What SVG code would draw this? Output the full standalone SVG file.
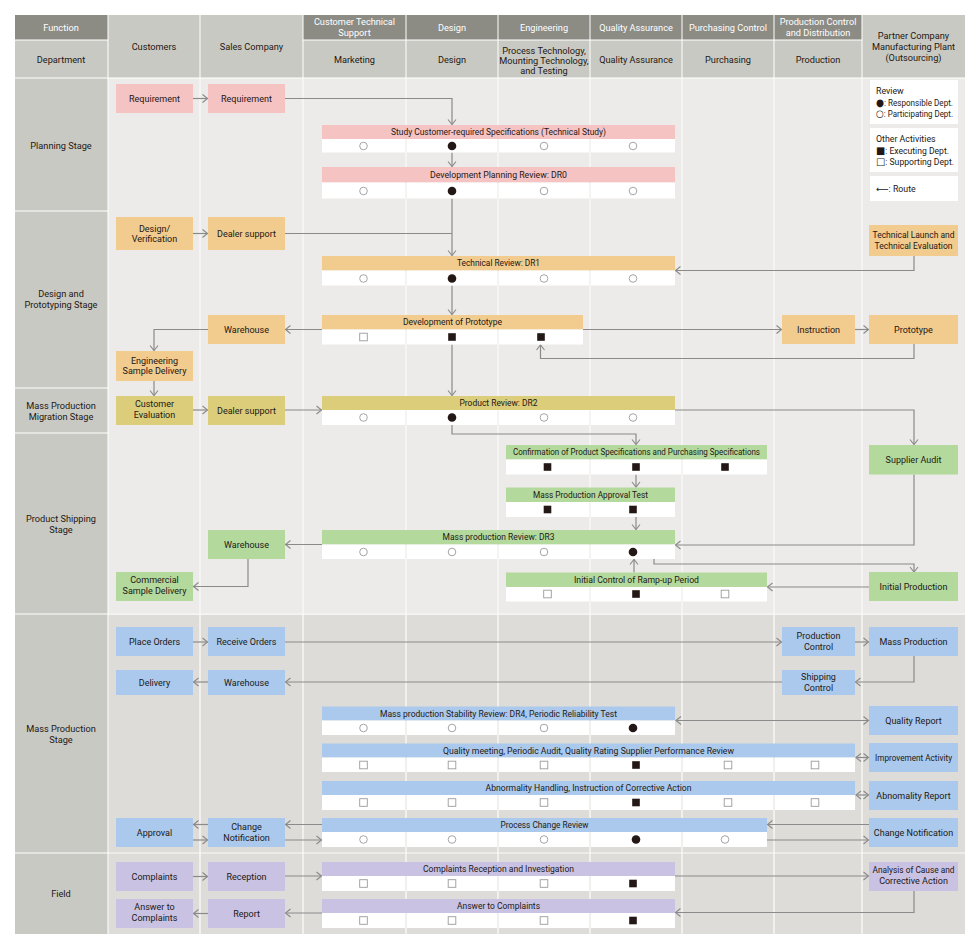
<svg xmlns="http://www.w3.org/2000/svg" xmlns:xlink="http://www.w3.org/1999/xlink" width="980" height="949" viewBox="0 0 980 949">
<style>
text{font-family:Roboto,"Liberation Sans","DejaVu Sans",sans-serif;fill:#231815}
.t{font-size:9px;text-anchor:middle}
.h{font-size:9.2px;text-anchor:middle}
.hw{font-size:9.2px;text-anchor:middle;fill:#fff}
.tl{font-size:8.8px;text-anchor:start}
.sym{font-family:"DejaVu Sans",sans-serif;font-size:10px}
.hd{fill:#8c8b84}
.hl{fill:#c9c9c3}
.pk{fill:#f6c3c3}
.or{fill:#f2cb8e}
.ol{fill:#dccd7a}
.gr{fill:#b3d99c}
.bl{fill:#aac9ec}
.pu{fill:#c9c2e3}
.w{fill:#fff}
#connectors path{fill:none;stroke:#8a8a8a;stroke-width:1.2}
.vl{stroke:#f7f7f5;stroke-width:1.5}
.sl{stroke:#fafaf8;stroke-width:1.2}
</style>
<defs>
<marker id="ah" markerWidth="8" markerHeight="10" refX="5.5" refY="4.5" orient="auto-start-reverse" markerUnits="userSpaceOnUse" overflow="visible"><path d="M0.5,0.5 L5.5,4.5 L0.5,8.5" fill="none" stroke="#8a8a8a" stroke-width="1.1"/></marker>
<circle id="oc" cx="0" cy="0" r="3.8" fill="#fff" stroke="#9b9b9b" stroke-width="0.9"/>
<circle id="fc" cx="0" cy="0" r="4.3" fill="#231815"/>
<rect id="os" x="-3.8" y="-3.8" width="7.6" height="7.6" fill="#fff" stroke="#9b9b9b" stroke-width="0.9"/>
<rect id="fs" x="-3.8" y="-3.8" width="7.6" height="7.6" fill="#231815"/>
</defs>
<rect x="0" y="0" width="980" height="949" fill="#fff"/>

<g id="header">
<rect class="hd" x="15" y="15" width="92.5" height="24.5"/>
<text class="hw" x="61" y="31">Function</text>
<rect class="hl" x="15" y="40.5" width="92.5" height="37"/>
<text class="h" x="61" y="63">Department</text>
<rect class="hl" x="108.5" y="15" width="91" height="62.5"/>
<text class="h" x="154" y="50">Customers</text>
<rect class="hl" x="200.5" y="15" width="102" height="62.5"/>
<text class="h" x="251.5" y="50">Sales Company</text>
<rect class="hd" x="303.5" y="15" width="102" height="24.5"/>
<text class="hw" x="354.5" y="25.2">Customer Technical</text>
<text class="hw" x="354.5" y="36.2">Support</text>
<rect class="hd" x="406.5" y="15" width="91" height="24.5"/>
<text class="hw" x="452" y="31">Design</text>
<rect class="hd" x="498.5" y="15" width="91" height="24.5"/>
<text class="hw" x="544" y="31">Engineering</text>
<rect class="hd" x="590.5" y="15" width="91" height="24.5"/>
<text class="hw" x="636" y="31">Quality Assurance</text>
<rect class="hd" x="682.5" y="15" width="91" height="24.5"/>
<text class="hw" x="728" y="31">Purchasing Control</text>
<rect class="hd" x="774.5" y="15" width="87" height="24.5"/>
<text class="hw" x="818" y="25.2">Production Control</text>
<text class="hw" x="818" y="36.2">and Distribution</text>
<rect class="hl" x="303.5" y="40.5" width="102" height="37"/>
<text class="h" x="354.5" y="63">Marketing</text>
<rect class="hl" x="406.5" y="40.5" width="91" height="37"/>
<text class="h" x="452" y="63">Design</text>
<rect class="hl" x="498.5" y="40.5" width="91" height="37"/>
<text class="h" x="544" y="53.8">Process Technology,</text>
<text class="h" x="544" y="63.8">Mounting Technology,</text>
<text class="h" x="544" y="73.8">and Testing</text>
<rect class="hl" x="590.5" y="40.5" width="91" height="37"/>
<text class="h" x="636" y="63">Quality Assurance</text>
<rect class="hl" x="682.5" y="40.5" width="91" height="37"/>
<text class="h" x="728" y="63">Purchasing</text>
<rect class="hl" x="774.5" y="40.5" width="87" height="37"/>
<text class="h" x="818" y="63">Production</text>
<rect class="hl" x="862.5" y="15" width="102.5" height="62.5"/>
<text class="h" x="913.5" y="39.1">Partner Company</text>
<text class="h" x="913.5" y="50.1">Manufacturing Plant</text>
<text class="h" x="913.5" y="61.1">(Outsourcing)</text>
</g>

<g id="body">
<rect x="108.5" y="78.5" width="856.5" height="535.5" fill="#ecebe9"/>
<rect x="108.5" y="614.5" width="856.5" height="319.5" fill="#dedcd8"/>
<line class="vl" x1="200" y1="78" x2="200" y2="934"/>
<line class="vl" x1="303" y1="78" x2="303" y2="934"/>
<line class="vl" x1="406" y1="78" x2="406" y2="934"/>
<line class="vl" x1="498" y1="78" x2="498" y2="934"/>
<line class="vl" x1="590" y1="78" x2="590" y2="934"/>
<line class="vl" x1="682" y1="78" x2="682" y2="934"/>
<line class="vl" x1="774" y1="78" x2="774" y2="934"/>
<line class="vl" x1="862" y1="78" x2="862" y2="934"/>
<line class="sl" x1="108" y1="614" x2="965" y2="614"/>
<line class="sl" x1="108" y1="853" x2="965" y2="853"/>
</g>

<g id="stages">
<rect class="hl" x="15" y="78.5" width="92.5" height="132"/>
<text class="h" x="61" y="148.8">Planning Stage</text>
<rect class="hl" x="15" y="211.5" width="92.5" height="176"/>
<text class="h" x="61" y="297.4">Design and</text>
<text class="h" x="61" y="308.4">Prototyping Stage</text>
<rect class="hl" x="15" y="388.5" width="92.5" height="44"/>
<text class="h" x="61" y="408.8">Mass Production</text>
<text class="h" x="61" y="419.8">Migration Stage</text>
<rect class="hl" x="15" y="433.5" width="92.5" height="180"/>
<text class="h" x="61" y="522.4">Product Shipping</text>
<text class="h" x="61" y="533.1">Stage</text>
<rect class="hl" x="15" y="614.5" width="92.5" height="238"/>
<text class="h" x="61" y="731.8">Mass Production</text>
<text class="h" x="61" y="743.4">Stage</text>
<rect class="hl" x="15" y="853.5" width="92.5" height="80.5"/>
<text class="h" x="61" y="897.4">Field</text>
</g>

<g id="legend">
<rect class="w" x="870" y="80" width="88" height="44"/>
<text class="tl" x="876" y="94">Review</text>
<text class="tl" x="876" y="105.5" textLength="77" lengthAdjust="spacingAndGlyphs"><tspan class="sym">●</tspan>: Responsible Dept.</text>
<text class="tl" x="876" y="116.5" textLength="77" lengthAdjust="spacingAndGlyphs"><tspan class="sym">○</tspan>: Participating Dept.</text>
<rect class="w" x="870" y="128" width="88" height="44"/>
<text class="tl" x="876" y="142">Other Activities</text>
<text class="tl" x="876" y="153.5" textLength="73" lengthAdjust="spacingAndGlyphs"><tspan class="sym">■</tspan>: Executing Dept.</text>
<text class="tl" x="876" y="165" textLength="78" lengthAdjust="spacingAndGlyphs"><tspan class="sym">□</tspan>: Supporting Dept.</text>
<rect class="w" x="870" y="176" width="88" height="25"/>
<text class="tl" x="876" y="192">⟵: Route</text>
</g>

<g id="connectors" marker-end="url(#ah)">
<path d="M193,98.5 H207.5"/>
<path d="M285,98.5 H452 V124.5"/>
<path d="M452,152.5 V166.5"/>
<path d="M452,198.5 V255.5"/>
<path d="M285,233.5 H452" marker-end="none"/>
<path d="M193,233.5 H207.5"/>
<path d="M914,256 V270.5 H675.5"/>
<path d="M452,285.5 V314.5"/>
<path d="M322,329.5 H285.5"/>
<path d="M208,329.5 H154 V350.5"/>
<path d="M583,329.5 H781.5"/>
<path d="M855,329.5 H868.5"/>
<path d="M914,344 V358.5 H540.5 V345"/>
<path d="M452,344.5 V395.5"/>
<path d="M154,381 V395.5"/>
<path d="M193,410 H207.5"/>
<path d="M285,410 H321.5"/>
<path d="M452,425 V434 H636 V444.5"/>
<path d="M675,410 H914 V444.5"/>
<path d="M636,474.5 V487"/>
<path d="M636,517 V529.5"/>
<path d="M914,474.5 V545 H675.5"/>
<path d="M322,544.5 H285.5"/>
<path d="M248,559 V586.5 H193.5"/>
<path d="M654,559 V564 H914 V572"/>
<path d="M869,587 H767.5"/>
<path d="M634,572.5 V559.5"/>
<path d="M193,642 H207.5"/>
<path d="M285,642 H781.5"/>
<path d="M855,642 H868.5"/>
<path d="M914,656 V682 H855.5"/>
<path d="M782,682 H285.5"/>
<path d="M208,682 H193.5"/>
<path d="M676,720.5 H868.5" marker-start="url(#ah)"/>
<path d="M856,757.5 H868.5" marker-start="url(#ah)"/>
<path d="M856,795 H868.5" marker-start="url(#ah)"/>
<path d="M869,824.5 H767.5"/>
<path d="M767,840 H868.5"/>
<path d="M322,824.5 H285.5"/>
<path d="M285,840 H321.5"/>
<path d="M208,824.5 H193.5"/>
<path d="M193,840 H207.5"/>
<path d="M193,876.5 H207.5"/>
<path d="M285,876 H321.5"/>
<path d="M675,876 H868.5"/>
<path d="M914,891 V912.5 H675.5"/>
<path d="M322,913 H285.5"/>
<path d="M208,913.5 H193.5"/>
</g>

<!-- Planning boxes -->
<g id="cust-req"><rect class="pk" x="116" y="84" width="77" height="29"/><text class="t" x="154.5" y="101.6">Requirement</text></g>
<g id="sales-req"><rect class="pk" x="208" y="84" width="77" height="29"/><text class="t" x="246.5" y="101.6">Requirement</text></g>

<g id="bar-study">
<rect class="pk" x="322" y="125" width="353" height="14"/>
<rect class="w" x="322" y="139" width="83" height="13.5"/><rect class="w" x="407" y="139" width="90" height="13.5"/><rect class="w" x="499" y="139" width="90" height="13.5"/><rect class="w" x="591" y="139" width="84" height="13.5"/>
<text class="t" x="498.5" y="135.1" textLength="215" lengthAdjust="spacingAndGlyphs">Study Customer-required Specifications (Technical Study)</text>
<use xlink:href="#oc" x="363.5" y="146"/><use xlink:href="#fc" x="452" y="146"/><use xlink:href="#oc" x="544" y="146"/><use xlink:href="#oc" x="633" y="146"/>
</g>
<g id="bar-dr0">
<rect class="pk" x="322" y="167" width="353" height="15.5"/>
<rect class="w" x="322" y="182.5" width="83" height="16"/><rect class="w" x="407" y="182.5" width="90" height="16"/><rect class="w" x="499" y="182.5" width="90" height="16"/><rect class="w" x="591" y="182.5" width="84" height="16"/>
<text class="t" x="498.5" y="178" textLength="137" lengthAdjust="spacingAndGlyphs">Development Planning Review: DR0</text>
<use xlink:href="#oc" x="363.5" y="191"/><use xlink:href="#fc" x="452" y="191"/><use xlink:href="#oc" x="544" y="191"/><use xlink:href="#oc" x="633" y="191"/>
</g>

<!-- Design and prototyping -->
<g id="cust-design"><rect class="or" x="116" y="217" width="77" height="33"/><text class="t" x="154.5" y="231.5">Design/</text><text class="t" x="154.5" y="242">Verification</text></g>
<g id="sales-dealer1"><rect class="or" x="208" y="217" width="77" height="33"/><text class="t" x="246.5" y="236.6">Dealer support</text></g>
<g id="partner-launch"><rect class="or" x="869" y="225" width="89" height="31"/><text class="t" x="913.5" y="238.3" textLength="82" lengthAdjust="spacingAndGlyphs">Technical Launch and</text><text class="t" x="913.5" y="248.9" textLength="78" lengthAdjust="spacingAndGlyphs">Technical Evaluation</text></g>
<g id="bar-dr1">
<rect class="or" x="322" y="256" width="353" height="14.5"/>
<rect class="w" x="322" y="270.5" width="83" height="15"/><rect class="w" x="407" y="270.5" width="90" height="15"/><rect class="w" x="499" y="270.5" width="90" height="15"/><rect class="w" x="591" y="270.5" width="84" height="15"/>
<text class="t" x="498.5" y="266.4" textLength="83" lengthAdjust="spacingAndGlyphs">Technical Review: DR1</text>
<use xlink:href="#oc" x="363.5" y="278.5"/><use xlink:href="#fc" x="452" y="278.5"/><use xlink:href="#oc" x="544" y="278.5"/><use xlink:href="#oc" x="633" y="278.5"/>
</g>
<g id="sales-warehouse1"><rect class="or" x="208" y="315" width="77" height="29"/><text class="t" x="246.5" y="332.6">Warehouse</text></g>
<g id="bar-prototype">
<rect class="or" x="322" y="315" width="261" height="14.5"/>
<rect class="w" x="322" y="329.5" width="83" height="15"/><rect class="w" x="407" y="329.5" width="90" height="15"/><rect class="w" x="499" y="329.5" width="84" height="15"/>
<text class="t" x="452.5" y="325.4" textLength="99" lengthAdjust="spacingAndGlyphs">Development of Prototype</text>
<use xlink:href="#os" x="363.5" y="337"/><use xlink:href="#fs" x="452" y="337"/><use xlink:href="#fs" x="541" y="337"/>
</g>
<g id="prod-instruction"><rect class="or" x="782" y="315" width="73" height="29"/><text class="t" x="818.5" y="332.6">Instruction</text></g>
<g id="partner-prototype"><rect class="or" x="869" y="315" width="89" height="29"/><text class="t" x="913.5" y="332.6">Prototype</text></g>
<g id="cust-engsample"><rect class="or" x="116" y="351" width="77" height="30"/><text class="t" x="154.5" y="363.8">Engineering</text><text class="t" x="154.5" y="374.4">Sample Delivery</text></g>

<!-- Migration -->
<g id="cust-eval"><rect class="ol" x="116" y="396" width="77" height="29"/><text class="t" x="154.5" y="407.3">Customer</text><text class="t" x="154.5" y="417.9">Evaluation</text></g>
<g id="sales-dealer2"><rect class="ol" x="208" y="396" width="77" height="29"/><text class="t" x="246.5" y="413.6">Dealer support</text></g>
<g id="bar-dr2">
<rect class="ol" x="322" y="396" width="353" height="14"/>
<rect class="w" x="322" y="410" width="83" height="15"/><rect class="w" x="407" y="410" width="90" height="15"/><rect class="w" x="499" y="410" width="90" height="15"/><rect class="w" x="591" y="410" width="84" height="15"/>
<text class="t" x="498.5" y="406.1" textLength="78" lengthAdjust="spacingAndGlyphs">Product Review: DR2</text>
<use xlink:href="#oc" x="363.5" y="417.5"/><use xlink:href="#fc" x="452" y="417.5"/><use xlink:href="#oc" x="544" y="417.5"/><use xlink:href="#oc" x="633" y="417.5"/>
</g>

<!-- Product shipping -->
<g id="bar-confirmation">
<rect class="gr" x="506" y="445" width="261" height="14.5"/>
<rect class="w" x="506" y="459.5" width="83" height="15"/><rect class="w" x="591" y="459.5" width="90" height="15"/><rect class="w" x="683" y="459.5" width="84" height="15"/>
<text class="t" x="636.5" y="455.4" textLength="247" lengthAdjust="spacingAndGlyphs">Confirmation of Product Specifications and Purchasing Specifications</text>
<use xlink:href="#fs" x="547.5" y="467"/><use xlink:href="#fs" x="636" y="467"/><use xlink:href="#fs" x="725" y="467"/>
</g>
<g id="partner-audit"><rect class="gr" x="869" y="445" width="89" height="29.5"/><text class="t" x="913.5" y="462.9">Supplier Audit</text></g>
<g id="bar-approval-test">
<rect class="gr" x="506" y="487.5" width="169" height="14.5"/>
<rect class="w" x="506" y="502" width="83" height="15"/><rect class="w" x="591" y="502" width="84" height="15"/>
<text class="t" x="590.5" y="497.9" textLength="115" lengthAdjust="spacingAndGlyphs">Mass Production Approval Test</text>
<use xlink:href="#fs" x="547.5" y="509.5"/><use xlink:href="#fs" x="633" y="509.5"/>
</g>
<g id="sales-warehouse2"><rect class="gr" x="208" y="530" width="77" height="29"/><text class="t" x="246.5" y="547.6">Warehouse</text></g>
<g id="bar-dr3">
<rect class="gr" x="322" y="530" width="353" height="14.5"/>
<rect class="w" x="322" y="544.5" width="83" height="14.5"/><rect class="w" x="407" y="544.5" width="90" height="14.5"/><rect class="w" x="499" y="544.5" width="90" height="14.5"/><rect class="w" x="591" y="544.5" width="84" height="14.5"/>
<text class="t" x="498.5" y="540.4" textLength="112" lengthAdjust="spacingAndGlyphs">Mass production Review: DR3</text>
<use xlink:href="#oc" x="363.5" y="552"/><use xlink:href="#oc" x="452" y="552"/><use xlink:href="#oc" x="544" y="552"/><use xlink:href="#fc" x="633" y="552"/>
</g>
<g id="cust-commercial"><rect class="gr" x="116" y="572" width="77" height="29"/><text class="t" x="154.5" y="583.3">Commercial</text><text class="t" x="154.5" y="593.9">Sample Delivery</text></g>
<g id="bar-rampup">
<rect class="gr" x="506" y="572.5" width="261" height="14.5"/>
<rect class="w" x="506" y="587" width="83" height="14.5"/><rect class="w" x="591" y="587" width="90" height="14.5"/><rect class="w" x="683" y="587" width="84" height="14.5"/>
<text class="t" x="636.5" y="582.9" textLength="125" lengthAdjust="spacingAndGlyphs">Initial Control of Ramp-up Period</text>
<use xlink:href="#os" x="547.5" y="594"/><use xlink:href="#fs" x="636" y="594"/><use xlink:href="#os" x="725" y="594"/>
</g>
<g id="partner-initial"><rect class="gr" x="869" y="572" width="89" height="29"/><text class="t" x="913.5" y="589.6">Initial Production</text></g>

<!-- Mass production -->
<g id="cust-orders"><rect class="bl" x="116" y="627" width="77" height="29"/><text class="t" x="154.5" y="644.6">Place Orders</text></g>
<g id="sales-orders"><rect class="bl" x="208" y="627" width="77" height="29"/><text class="t" x="246.5" y="644.6">Receive Orders</text></g>
<g id="prod-control"><rect class="bl" x="782" y="627" width="73" height="29"/><text class="t" x="818.5" y="638.9">Production</text><text class="t" x="818.5" y="649.5">Control</text></g>
<g id="partner-mass"><rect class="bl" x="869" y="627" width="89" height="29"/><text class="t" x="913.5" y="644.6">Mass Production</text></g>
<g id="cust-delivery"><rect class="bl" x="116" y="670" width="77" height="25"/><text class="t" x="154.5" y="685.6">Delivery</text></g>
<g id="sales-warehouse3"><rect class="bl" x="208" y="670" width="77" height="25"/><text class="t" x="246.5" y="685.6">Warehouse</text></g>
<g id="prod-shipping"><rect class="bl" x="782" y="670" width="73" height="25"/><text class="t" x="818.5" y="679.9">Shipping</text><text class="t" x="818.5" y="690.5">Control</text></g>
<g id="bar-dr4">
<rect class="bl" x="322" y="706.5" width="353" height="14"/>
<rect class="w" x="322" y="720.5" width="83" height="14.5"/><rect class="w" x="407" y="720.5" width="90" height="14.5"/><rect class="w" x="499" y="720.5" width="90" height="14.5"/><rect class="w" x="591" y="720.5" width="84" height="14.5"/>
<text class="t" x="498.5" y="716.6" textLength="237" lengthAdjust="spacingAndGlyphs">Mass production Stability Review: DR4, Periodic Reliability Test</text>
<use xlink:href="#oc" x="363.5" y="728"/><use xlink:href="#oc" x="452" y="728"/><use xlink:href="#oc" x="544" y="728"/><use xlink:href="#fc" x="633" y="728"/>
</g>
<g id="partner-quality"><rect class="bl" x="869" y="706" width="89" height="29"/><text class="t" x="913.5" y="723.6">Quality Report</text></g>
<g id="bar-quality-meeting">
<rect class="bl" x="322" y="743.5" width="533" height="14"/>
<rect class="w" x="322" y="757.5" width="83" height="14.5"/><rect class="w" x="407" y="757.5" width="90" height="14.5"/><rect class="w" x="499" y="757.5" width="90" height="14.5"/><rect class="w" x="591" y="757.5" width="90" height="14.5"/><rect class="w" x="683" y="757.5" width="90" height="14.5"/><rect class="w" x="775" y="757.5" width="80" height="14.5"/>
<text class="t" x="588.5" y="753.6" textLength="291" lengthAdjust="spacingAndGlyphs">Quality meeting, Periodic Audit, Quality Rating Supplier Performance Review</text>
<use xlink:href="#os" x="363.5" y="765"/><use xlink:href="#os" x="452" y="765"/><use xlink:href="#os" x="544" y="765"/><use xlink:href="#fs" x="636" y="765"/><use xlink:href="#os" x="728" y="765"/><use xlink:href="#os" x="815" y="765"/>
</g>
<g id="partner-improve"><rect class="bl" x="869" y="743" width="89" height="29"/><text class="t" x="913.5" y="760.6" textLength="77" lengthAdjust="spacingAndGlyphs">Improvement Activity</text></g>
<g id="bar-abnormality">
<rect class="bl" x="322" y="781" width="533" height="14"/>
<rect class="w" x="322" y="795" width="83" height="15"/><rect class="w" x="407" y="795" width="90" height="15"/><rect class="w" x="499" y="795" width="90" height="15"/><rect class="w" x="591" y="795" width="90" height="15"/><rect class="w" x="683" y="795" width="90" height="15"/><rect class="w" x="775" y="795" width="80" height="15"/>
<text class="t" x="588.5" y="791.1" textLength="206" lengthAdjust="spacingAndGlyphs">Abnormality Handling, Instruction of Corrective Action</text>
<use xlink:href="#os" x="363.5" y="802.5"/><use xlink:href="#os" x="452" y="802.5"/><use xlink:href="#os" x="544" y="802.5"/><use xlink:href="#fs" x="636" y="802.5"/><use xlink:href="#os" x="728" y="802.5"/><use xlink:href="#os" x="815" y="802.5"/>
</g>
<g id="partner-abnormality"><rect class="bl" x="869" y="781" width="89" height="29"/><text class="t" x="913.5" y="798.6">Abnomality Report</text></g>
<g id="cust-approval"><rect class="bl" x="116" y="818" width="77" height="29"/><text class="t" x="154.5" y="835.6">Approval</text></g>
<g id="sales-change"><rect class="bl" x="208" y="818" width="77" height="29"/><text class="t" x="246.5" y="829.9">Change</text><text class="t" x="246.5" y="840.5">Notification</text></g>
<g id="bar-process-change">
<rect class="bl" x="322" y="818" width="445" height="14"/>
<rect class="w" x="322" y="832" width="83" height="15"/><rect class="w" x="407" y="832" width="90" height="15"/><rect class="w" x="499" y="832" width="90" height="15"/><rect class="w" x="591" y="832" width="90" height="15"/><rect class="w" x="683" y="832" width="84" height="15"/>
<text class="t" x="544.5" y="828.1" textLength="88" lengthAdjust="spacingAndGlyphs">Process Change Review</text>
<use xlink:href="#oc" x="363.5" y="839.5"/><use xlink:href="#oc" x="452" y="839.5"/><use xlink:href="#oc" x="544" y="839.5"/><use xlink:href="#fc" x="636" y="839.5"/><use xlink:href="#oc" x="725" y="839.5"/>
</g>
<g id="partner-change"><rect class="bl" x="869" y="818" width="89" height="29"/><text class="t" x="913.5" y="835.6">Change Notification</text></g>

<!-- Field -->
<g id="cust-complaints"><rect class="pu" x="116" y="862" width="77" height="29"/><text class="t" x="154.5" y="879.6">Complaints</text></g>
<g id="sales-reception"><rect class="pu" x="208" y="862" width="77" height="29"/><text class="t" x="246.5" y="879.6">Reception</text></g>
<g id="bar-complaints">
<rect class="pu" x="322" y="862" width="353" height="14"/>
<rect class="w" x="322" y="876" width="83" height="15"/><rect class="w" x="407" y="876" width="90" height="15"/><rect class="w" x="499" y="876" width="90" height="15"/><rect class="w" x="591" y="876" width="84" height="15"/>
<text class="t" x="498.5" y="872.1" textLength="151" lengthAdjust="spacingAndGlyphs">Complaints Reception and Investigation</text>
<use xlink:href="#os" x="363.5" y="883.5"/><use xlink:href="#os" x="452" y="883.5"/><use xlink:href="#os" x="544" y="883.5"/><use xlink:href="#fs" x="633" y="883.5"/>
</g>
<g id="partner-analysis"><rect class="pu" x="869" y="862" width="89" height="29"/><text class="t" x="913.5" y="873.3" textLength="82" lengthAdjust="spacingAndGlyphs">Analysis of Cause and</text><text class="t" x="913.5" y="883.9">Corrective Action</text></g>
<g id="cust-answer"><rect class="pu" x="116" y="899" width="77" height="29"/><text class="t" x="154.5" y="910.3">Answer to</text><text class="t" x="154.5" y="920.9">Complaints</text></g>
<g id="sales-report"><rect class="pu" x="208" y="899" width="77" height="29"/><text class="t" x="246.5" y="916.6">Report</text></g>
<g id="bar-answer">
<rect class="pu" x="322" y="899" width="353" height="14"/>
<rect class="w" x="322" y="913" width="83" height="15"/><rect class="w" x="407" y="913" width="90" height="15"/><rect class="w" x="499" y="913" width="90" height="15"/><rect class="w" x="591" y="913" width="84" height="15"/>
<text class="t" x="498.5" y="909.1" textLength="83" lengthAdjust="spacingAndGlyphs">Answer to Complaints</text>
<use xlink:href="#os" x="363.5" y="920.5"/><use xlink:href="#os" x="452" y="920.5"/><use xlink:href="#os" x="544" y="920.5"/><use xlink:href="#fs" x="633" y="920.5"/>
</g>
</svg>
